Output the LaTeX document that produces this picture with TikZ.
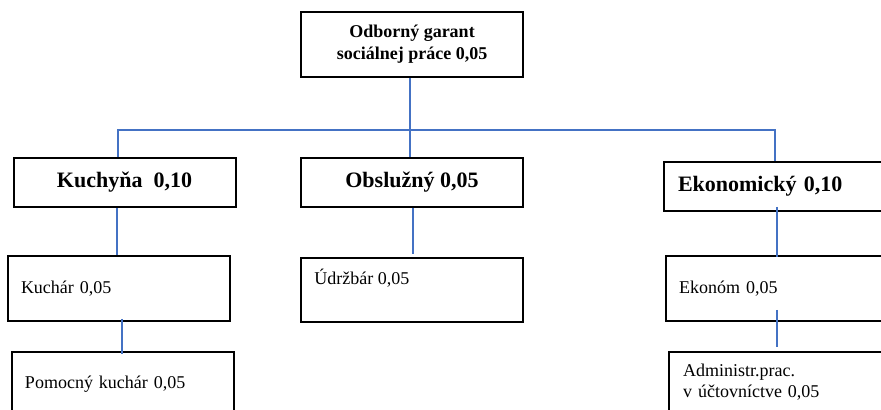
\documentclass[tikz,border=0pt]{standalone}
\usepackage{fontspec}
\setmainfont{Liberation Serif}
\usepackage{tikz}
\usetikzlibrary{positioning, calc}
\definecolor{linkblue}{RGB}{68,114,196}

\begin{document}
\begin{tikzpicture}[
    x=0.5pt, y=-0.5pt,
    head_box/.style={draw=black, line width=1pt, minimum width=111pt, minimum height=32.5pt, align=center, font=\fontsize{9}{11}\selectfont\bfseries},
    dept_box/.style={draw=black, line width=1pt, minimum width=111pt, minimum height=24.5pt, font=\fontsize{11}{13}\selectfont\bfseries},
    staff_box/.style={draw=black, line width=1pt, text width=98pt, inner xsep=6.5pt, minimum height=32.5pt, align=left, font=\fontsize{9}{10.5}\selectfont},
    staff_text/.style={inner sep=0pt, anchor=north west, font=\fontsize{9}{10.5}\selectfont},
    link/.style={draw=linkblue, line width=0.75pt}
]
    \useasboundingbox (0,0) rectangle (881,410);
    \clip (0,0) rectangle (881,410);

    % Top level
    \node[head_box] (garant) at (412,44.5) {Odborný garant\\sociálnej práce 0,05};

    % Departments
    \node[dept_box] (kuchyna) at (124.5,182.5) {Kuchyňa\ \ 0,10};
    \node[dept_box] (obsluzny) at (412,182.5) {Obslužný 0,05};
    \node[dept_box, text width=97pt, inner xsep=7pt, align=left] (ekonomicky) at (775,186.5) {Ekonomický 0,10};

    % Staff
    \node[staff_box] (kuchar) at (119,288.5) {Kuchár 0,05};
    \node[staff_box] (pomocny) at (123,384.5) {Pomocný kuchár 0,05};
    \node[draw=black, line width=1pt, minimum width=111pt, minimum height=32pt] (udrzbar) at (412,290) {};
    \node[staff_text] (udrzbar_txt) at ([xshift=7pt, yshift=-6pt]udrzbar.north west) {Údržbár 0,05};
    \node[staff_box] (ekonom) at (777,288.5) {Ekonóm 0,05};
    \node[staff_box, inner xsep=7pt, minimum height=30pt] (administr) at (781,382) {Administr.prac.\\v účtovníctve 0,05};

    % Links from the top
    \coordinate (bus) at (0,130);
    \draw[link] ([xshift=-1pt]garant.south) -- ([xshift=-1pt]obsluzny.north);
    \draw[link] ([xshift=-3.25pt]kuchyna.north) |- (ekonomicky.north |- bus) -- (ekonomicky.north);

    % Links to staff
    \draw[link] ([xshift=-3.75pt]kuchyna.south) -- ([xshift=-3.75pt]kuchyna.south |- kuchar.north);
    \draw[link] ([xshift=1.5pt, yshift=1.5pt]kuchar.south) -- ([xshift=1.5pt, yshift=-1.5pt]kuchar.south |- pomocny.north);
    \draw[link] ([xshift=0.5pt]obsluzny.south) -- ([xshift=0.5pt, yshift=1.5pt]obsluzny.south |- udrzbar.north);
    \draw[link] ([xshift=1pt, yshift=2.5pt]ekonomicky.south) -- ([xshift=1pt, yshift=-1pt]ekonomicky.south |- ekonom.north);
    \draw[link] ([yshift=6pt]ekonom.south) -- ([yshift=2pt]ekonom.south |- administr.north);
\end{tikzpicture}
\end{document}
